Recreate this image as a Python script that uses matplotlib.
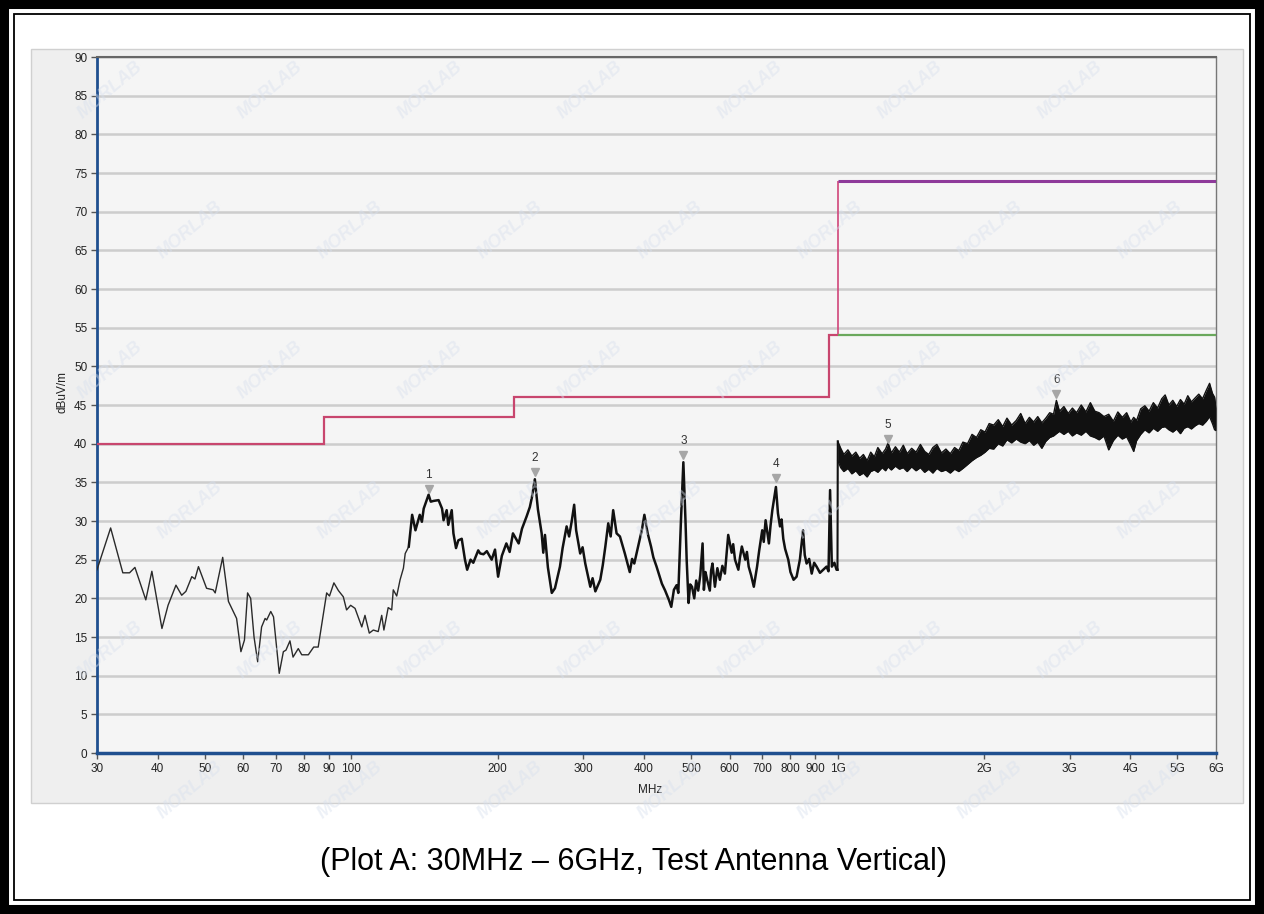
import numpy as np
import matplotlib
matplotlib.use("Agg")
from matplotlib import pyplot as plt
from matplotlib.patches import Rectangle

plt.rcParams['font.family'] = ['Liberation Sans Narrow', 'Liberation Sans', 'DejaVu Sans']

# Trace 30 MHz - 1 GHz (frequency in MHz, level in dBuV/m)
trace_freq = [30.0, 32.0, 33.9, 35.0, 35.9, 37.8, 38.9, 40.8, 42.0, 43.6, 44.8, 45.7, 47.0, 47.7,
              48.5, 50.4, 52.0, 52.5, 54.4, 55.9, 58.1, 59.3, 60.3, 61.2, 62.1, 63.1, 64.2, 65.4,
              66.5, 67.0, 68.3, 69.2, 71.1, 72.5, 73.4, 74.8, 75.9, 77.8, 79.1, 81.6, 83.7, 85.5,
              89.0, 90.2, 92.1, 94.1, 96.3, 97.8, 99.7, 101.8, 105.1, 106.7, 108.9, 111.0, 113.6,
              115.5, 116.7, 119.1, 121.1, 122.0, 124.0, 126.0, 128.0, 129.1, 131.3, 133.4, 135.5,
              138.3, 139.7, 140.9, 144.2, 145.7, 147.7, 151.2, 153.7, 154.8, 157.1, 158.3, 160.9,
              162.2, 164.2, 166.0, 168.7, 171.3, 173.1, 175.9, 178.2, 182.4, 184.1, 187.0, 190.0,
              194.4, 197.5, 200.4, 204.0, 208.4, 211.7, 215.0, 220.9, 224.4, 229.4, 232.9, 235.1,
              238.5, 242.0, 246.3, 248.2, 250.2, 253.7, 258.4, 262.3, 268.6, 272.0, 277.2, 280.5,
              284.2, 287.3, 290.0, 295.6, 299.0, 302.8, 310.1, 313.5, 317.6, 325.1, 329.0, 333.0,
              337.6, 341.5, 345.6, 351.2, 356.8, 361.0, 365.2, 373.8, 378.0, 381.9, 391.6, 396.0,
              400.6, 406.9, 413.4, 418.0, 424.4, 435.2, 442.0, 449.9, 455.0, 460.7, 466.6, 470.4,
              476.3, 481.8, 486.7, 489.4, 493.8, 497.5, 501.9, 507.3, 512.0, 516.9, 522.0, 527.7,
              531.0, 535.0, 539.3, 546.1, 549.5, 553.0, 559.4, 566.0, 572.7, 579.5, 586.5, 591.0,
              595.8, 605.7, 610.0, 615.3, 625.1, 630.0, 635.5, 645.9, 651.0, 656.4, 664.0, 672.6,
              683.0, 690.0, 699.9, 705.0, 711.2, 722.4, 728.0, 734.2, 746.8, 754.0, 761.3, 767.0,
              773.3, 780.0, 791.8, 800.0, 811.9, 823.6, 836.5, 849.2, 856.0, 863.6, 874.0, 884.7,
              895.0, 905.4, 920.0, 934.2, 949.0, 958.0, 965.1, 973.2, 985.0, 995.2, 999.5]
trace_level = [23.7, 29.1, 23.3, 23.3, 24.0, 19.8, 23.5, 16.1, 19.1, 21.7, 20.4, 20.9, 22.8, 22.5,
               24.1, 21.3, 21.1, 20.7, 25.3, 19.6, 17.4, 13.1, 14.6, 20.7, 20.0, 15.0, 11.8, 16.3,
               17.4, 17.2, 18.3, 17.6, 10.3, 13.1, 13.3, 14.5, 12.4, 13.5, 12.7, 12.7, 13.7, 13.7,
               20.7, 20.3, 22.0, 21.0, 20.2, 18.5, 19.1, 18.7, 16.3, 17.8, 15.5, 15.9, 15.7,
               17.8, 15.9, 18.8, 18.5, 21.1, 20.3, 22.4, 23.9, 25.8, 26.7, 30.8, 28.8,
               30.8, 29.9, 31.6, 33.4, 32.5, 32.6, 32.7, 31.6, 30.1, 31.4, 29.5, 31.4,
               28.4, 26.5, 27.5, 27.7, 25.0, 23.7, 25.0, 24.6, 26.2, 25.8, 25.7, 26.1,
               25.0, 26.3, 22.8, 25.5, 27.1, 26.0, 28.4, 27.1, 29.0, 30.6, 31.8, 33.0,
               35.4, 31.5, 28.4, 25.9, 28.2, 24.0, 20.7, 21.3, 24.1, 26.5, 29.3, 28.0,
               30.1, 32.1, 28.8, 25.8, 26.6, 24.5, 21.5, 22.6, 20.9, 22.4, 24.3, 26.7,
               29.7, 28.0, 31.4, 28.4, 28.0, 26.9, 25.8, 23.4, 25.1, 24.5, 27.5, 28.9,
               30.8, 28.4, 26.7, 25.3, 24.1, 21.9, 21.0, 19.8, 18.9, 21.1, 21.7, 20.7,
               30.0, 37.6, 30.0, 25.0, 19.4, 21.8, 21.5, 20.0, 22.3, 21.0, 23.0, 27.1,
               21.1, 23.4, 22.4, 21.0, 23.6, 24.5, 21.5, 23.9, 22.4, 24.2, 23.2, 25.6,
               28.2, 25.9, 27.0, 25.0, 23.7, 25.3, 26.7, 25.0, 26.0, 24.1, 23.0, 21.5,
               24.1, 26.2, 28.8, 27.3, 30.1, 27.1, 29.4, 31.4, 34.4, 31.0, 29.3, 30.2,
               27.7, 26.4, 25.0, 23.4, 22.4, 22.8, 25.0, 28.8, 25.6, 24.5, 25.1, 23.2,
               24.6, 24.1, 23.3, 23.7, 24.1, 23.5, 34.0, 24.1, 24.6, 23.7, 23.7]

# Trace 1 GHz - 6 GHz, dense sweep drawn as its upper and lower envelope
band_freq = [1001, 1015, 1030, 1050, 1070, 1090, 1110, 1130, 1150, 1170,
             1190, 1210, 1235, 1255, 1270, 1290, 1315, 1340, 1365, 1390,
             1420, 1450, 1480, 1510, 1540, 1570, 1600, 1635, 1670, 1705,
             1740, 1775, 1810, 1850, 1890, 1930, 1970, 2010, 2050, 2094,
             2140, 2185, 2230, 2280, 2330, 2380, 2430, 2480, 2530, 2580,
             2630, 2680, 2730, 2780, 2818, 2860, 2920, 2980, 3040, 3100,
             3170, 3240, 3310, 3380, 3450, 3530, 3610, 3690, 3770, 3850,
             3930, 4010, 4063, 4120, 4200, 4284, 4370, 4460, 4550, 4640,
             4716, 4800, 4890, 4980, 5070, 5160, 5250, 5340, 5433, 5530,
             5630, 5730, 5820, 5900, 5960, 6000]
band_top = [40.3, 39.4, 38.6, 39.2, 38.4, 38.9, 38.1, 38.6, 37.8, 38.9,
            38.3, 39.5, 38.7, 39.3, 40.1, 38.8, 39.6, 38.9, 39.8, 38.7,
            39.4, 38.9, 39.9, 39.0, 38.6, 39.5, 39.9, 38.8, 39.3, 38.7,
            39.5, 39.1, 40.2, 40.0, 41.2, 40.8, 41.8, 41.5, 42.6, 42.4,
            43.1, 42.2, 43.3, 42.4, 43.0, 43.9, 42.6, 43.4, 42.8, 43.5,
            42.7, 43.3, 44.0, 43.8, 45.6, 44.2, 44.8, 43.9, 44.6, 44.0,
            45.0, 44.1, 45.3, 44.2, 44.0, 43.5, 43.8, 42.9, 44.1, 43.4,
            44.0, 42.8, 43.4, 43.0, 44.5, 44.9, 44.2, 45.3, 44.6, 45.8,
            46.3, 45.0, 45.6, 44.8, 45.7, 45.1, 46.2, 45.4, 45.9, 46.4,
            45.8, 46.9, 47.8, 46.5, 46.0, 44.6]
band_bottom = [37.8, 36.9, 36.4, 36.8, 36.1, 36.5, 35.9, 36.2, 35.7, 36.4,
               36.6, 36.3, 36.9, 36.5, 37.0, 36.6, 37.1, 36.7, 36.9, 36.4,
               37.0, 36.5, 36.9, 36.3, 36.7, 36.2, 36.8, 36.4, 36.6, 36.2,
               36.7, 36.4, 36.8, 37.3, 37.8, 38.2, 38.5, 38.9, 39.4, 39.3,
               40.0, 39.7, 40.5, 40.1, 40.6, 40.2, 40.0, 40.4, 39.8, 40.2,
               39.4, 40.3, 40.8, 41.0, 41.3, 41.6, 41.2, 41.6, 41.0, 41.4,
               41.1, 41.6, 41.0, 40.8, 40.5, 41.0, 39.2, 40.4, 41.1, 40.6,
               40.9, 39.8, 39.0, 40.4, 41.2, 41.8, 41.4, 42.0, 41.6, 42.1,
               42.2, 41.8, 41.5, 41.9, 41.3, 42.0, 42.2, 41.9, 42.3, 42.6,
               42.4, 42.9, 43.5, 42.6, 41.8, 41.7]

# Limits
qp_edges = [30, 88, 216, 960, 1000]
qp_levels = [40, 43.5, 46, 54]
peak_limit = 74
avg_limit = 54

# Marker peaks
marker_freq = [144.2, 238.5, 481.8, 746.8, 1270, 2818]
marker_level = [33.4, 35.6, 37.8, 34.8, 39.9, 45.7]

x_ticks = [30, 40, 50, 60, 70, 80, 90, 100, 200, 300, 400, 500, 600, 700, 800, 900,
           1000, 2000, 3000, 4000, 5000, 6000]
x_labels = ['30', '40', '50', '60', '70', '80', '90', '100', '200', '300', '400', '500',
            '600', '700', '800', '900', '1G', '2G', '3G', '4G', '5G', '6G']

W, H = 1264, 914
fig = plt.figure(figsize=(W / 100, H / 100), dpi=100)
fig.patch.set_facecolor('white')

# grey chart panel
fig.patches.append(Rectangle((31 / W, 1 - 803 / H), (1243 - 31) / W, (803 - 49) / H,
                             transform=fig.transFigure, fc='#efefef', ec='#d0d0d0', lw=1,
                             zorder=-5))

ax = fig.add_axes([97 / W, 1 - 753 / H, (1216 - 97) / W, (753 - 57) / H])
ax.set_zorder(2)
ax.set_facecolor('#f5f5f5')
ax.set_xscale('log')
ax.set_xlim(30, 6000)
ax.set_ylim(0, 90)

ax.set_yticks(range(0, 91, 5))
ax.yaxis.grid(True, color='#cdcdcd', lw=1.8)
ax.set_axisbelow(True)
ax.set_xticks(x_ticks)
ax.set_xticklabels(x_labels)
ax.xaxis.set_minor_locator(matplotlib.ticker.NullLocator())
ax.tick_params(axis='both', direction='out', length=4, width=1, color='#555555',
               labelsize=8.5, labelcolor='#222222')
ax.tick_params(axis='y', pad=3)
ax.tick_params(axis='x', pad=3)

for side in ['left', 'bottom']:
    ax.spines[side].set_color('#1f4f8f')
ax.spines['left'].set_linewidth(2)
ax.spines['bottom'].set_linewidth(2.5)
ax.spines['top'].set_color('#666666')
ax.spines['top'].set_linewidth(1.5)
ax.spines['right'].set_color('#777777')
ax.spines['right'].set_linewidth(1)

# limit lines
ax.stairs(qp_levels, qp_edges, baseline=None, color='#c8466e', lw=1.6, zorder=3)
ax.vlines(1000, avg_limit, peak_limit, color='#d0457a', lw=1.2, zorder=3)
ax.hlines(peak_limit, 1000, 6000, color='#8e3a9a', lw=2.2, zorder=3)
ax.hlines(avg_limit, 1000, 6000, color='#6aa85c', lw=1.6, zorder=3)

# trace
tf = np.array(trace_freq)
tl = np.array(trace_level)
low = tf <= 131.3
high = tf >= 131.3
ax.plot(tf[low], tl[low], color='#2a2a2a', lw=1.0, zorder=4)
ax.plot(tf[high], tl[high], color='#111111', lw=1.8, zorder=4)
ax.plot([trace_freq[-1], band_freq[0]], [trace_level[-1], band_top[0]], color='#111111', lw=1.5, zorder=4)
ax.fill_between(band_freq, band_bottom, band_top, color='#111111', lw=0, zorder=4)
ax.plot(band_freq, band_top, color='#111111', lw=1.0, zorder=4)
ax.plot(band_freq, band_bottom, color='#111111', lw=1.0, zorder=4)

# markers
ax.plot(marker_freq, np.array(marker_level) + 0.7, ls='none', marker='v', ms=6,
        color='#a6a6a6', zorder=5)
for i, (f, v) in enumerate(zip(marker_freq, marker_level)):
    ax.annotate(str(i + 1), (f, v), xytext=(0, 14), textcoords='offset points',
                ha='center', va='center', fontsize=8.5, color='#333333', zorder=6)

fig.text(650 / W, 1 - 790 / H, 'MHz', ha='center', va='center', fontsize=8.5, color='#222222')
fig.text(62 / W, 1 - 392 / H, 'dBuV/m', ha='center', va='center', rotation=90,
         fontsize=8.5, color='#222222')

fig.text(634 / W, 1 - 862 / H, '(Plot A: 30MHz \u2013 6GHz, Test Antenna Vertical)',
         ha='center', va='center', fontsize=22, family=['Liberation Sans', 'DejaVu Sans'])

# faint watermark
for row in range(6):
    for col in range(7):
        xw = (110 + col * 160 + (row % 2) * 80) / W
        yw = 1 - (90 + row * 140) / H
        fig.text(xw, yw, 'MORLAB', rotation=40, fontsize=13, fontweight='bold',
                 fontstyle='italic', color='#d8e0ee', alpha=0.45, ha='center', va='center',
                 zorder=3)

# double page border
fig.patches.append(Rectangle((0, 0), 1, 1, transform=fig.transFigure, fill=False,
                             ec='black', lw=13, zorder=10))
fig.patches.append(Rectangle((14 / W, 14 / H), 1 - 28 / W, 1 - 28 / H, transform=fig.transFigure,
                             fill=False, ec='black', lw=1.3, zorder=10))

fig.savefig('out.png', dpi=100)
